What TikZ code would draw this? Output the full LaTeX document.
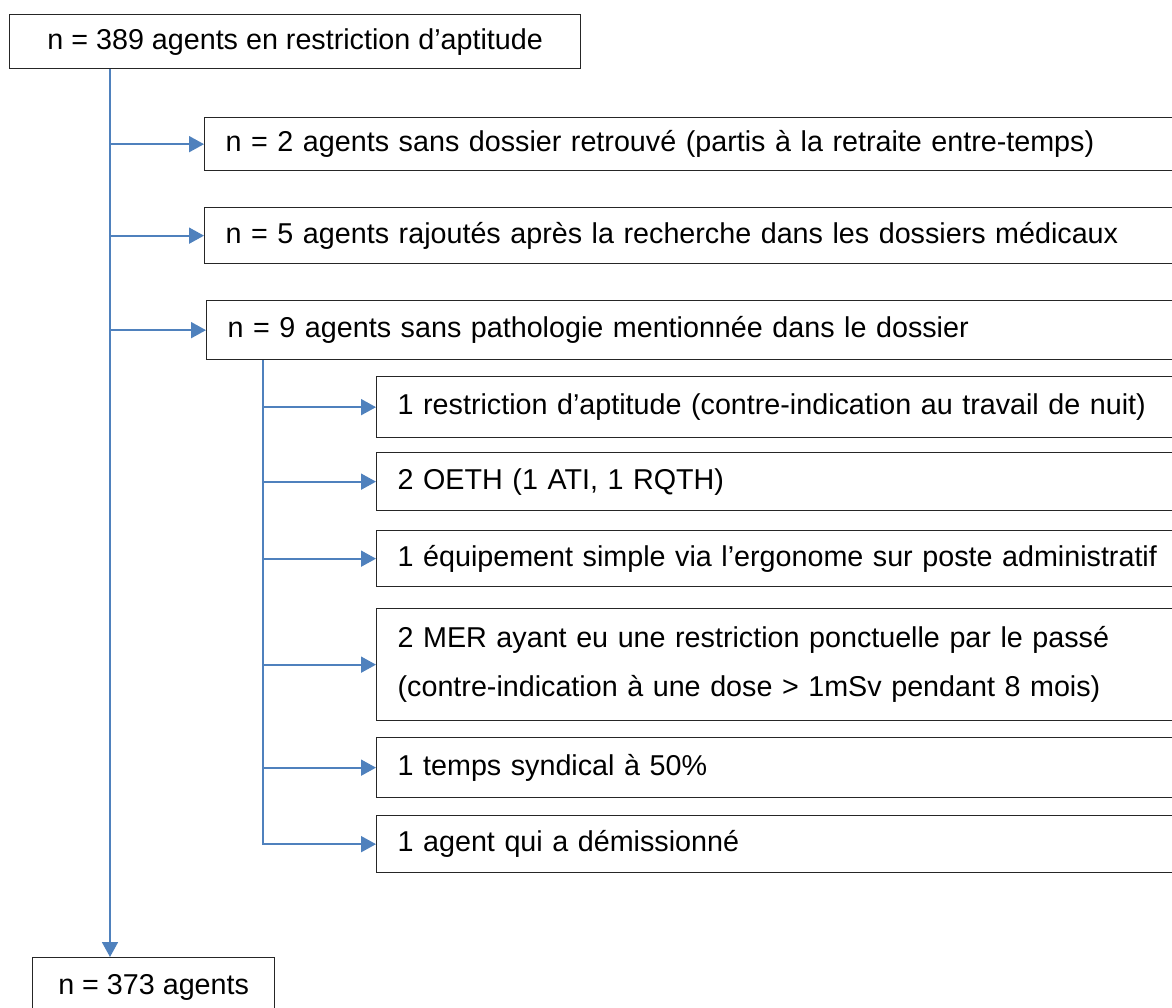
\documentclass[tikz,border=0pt]{standalone}
\usepackage{fontspec}
\setmainfont{Liberation Sans}
\usepackage{xcolor}
\usetikzlibrary{arrows.meta}
\definecolor{flowblue}{RGB}{79,129,189}

\begin{document}
\begin{tikzpicture}[x=0.5pt,y=-0.5pt,
  box/.style={draw=black!85,line width=0.65pt,rectangle,inner xsep=10.5pt,inner ysep=0pt,
    anchor=north west,font=\fontsize{14.35}{17}\selectfont},
  widebox/.style={box,text width=480pt,align=left},
  subbox/.style={box,text width=400pt,align=left},
  link/.style={draw=flowblue,line width=0.9pt,-{Triangle[length=7.5pt,width=8pt]}}]
  \useasboundingbox (0,0) rectangle (1172,1007);
  \coordinate (trunk) at (110,0);
  \coordinate (subtrunk) at (263,0);
  \node[box,minimum width=285.5pt,minimum height=27pt] (start) at (9,14) {n = 389 agents en restriction d’aptitude};
  \node[widebox,minimum height=26.5pt] (n2) at (204,117) {n = 2 agents sans dossier retrouvé (partis à la retraite entre-temps)};
  \node[widebox,minimum height=28pt] (n5) at (204,207) {n = 5 agents rajoutés après la recherche dans les dossiers médicaux};
  \node[widebox,minimum height=29.5pt] (n9) at (206,300) {n = 9 agents sans pathologie mentionnée dans le dossier};
  \node[subbox,minimum height=30.5pt] (s1) at (376,376) {1 restriction d’aptitude (contre-indication au travail de nuit)};
  \node[subbox,minimum height=29pt] (s2) at (376,452) {2 OETH (1 ATI, 1 RQTH)};
  \node[subbox,minimum height=28pt] (s3) at (376,530) {1 équipement simple via l’ergonome sur poste administratif};
  \node[subbox,minimum height=56pt,font=\fontsize{14.35}{24.5}\selectfont] (s4) at (376,608)
    {2 MER ayant eu une restriction ponctuelle par le passé\\(contre-indication à une dose > 1mSv pendant 8 mois)};
  \node[subbox,minimum height=30pt] (s5) at (376,737) {1 temps syndical à 50\%};
  \node[subbox,minimum height=28.5pt] (s6) at (376,815) {1 agent qui a démissionné};
  \node[box,minimum width=121pt,minimum height=30pt] (final) at (32,957) {n = 373 agents};
  \draw[link] (start.south -| trunk) -- (final.north -| trunk);
  \foreach \n in {n2,n5,n9}
    \draw[link] (\n.west -| trunk) -- (\n.west);
  \draw[link] (n9.south -| subtrunk) |- (s6.west);
  \foreach \n in {s1,s2,s3,s4,s5}
    \draw[link] (\n.west -| subtrunk) -- (\n.west);
\end{tikzpicture}
\end{document}
